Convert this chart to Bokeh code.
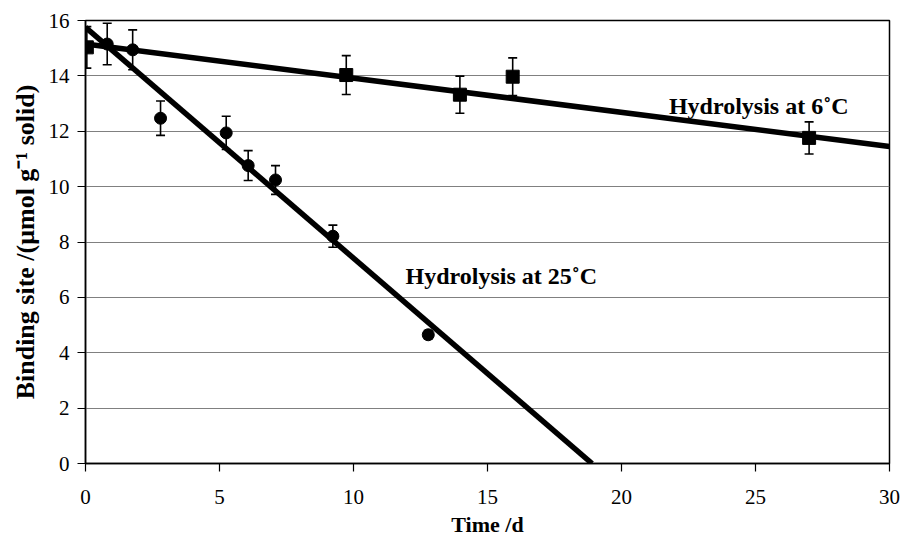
from bokeh.plotting import figure
from bokeh.models import Range1d, ColumnDataSource, Whisker, TeeHead, FixedTicker
from bokeh.core.properties import value
from bokeh.embed import file_html
from bokeh.resources import INLINE

# 25 °C hydrolysis (circles)
t25 = [0.81, 1.76, 2.80, 5.25, 6.07, 7.09, 9.23, 12.79]
b25 = [15.15, 14.94, 12.47, 11.94, 10.76, 10.24, 8.21, 4.65]
e25 = [0.75, 0.72, 0.62, 0.60, 0.54, 0.52, 0.40, 0.15]

# 6 °C hydrolysis (squares)
t6 = [0.05, 9.73, 13.97, 15.94, 27.0]
b6 = [15.03, 14.03, 13.32, 13.97, 11.76]
e6 = [0.75, 0.70, 0.67, 0.68, 0.58]

# fitted straight lines (end points)
fit25_x = [0.0, 18.9]
fit25_y = [15.75, 0.0]
fit6_x = [0.0, 30.0]
fit6_y = [15.15, 11.45]

x_ticks = [0, 5, 10, 15, 20, 25, 30]
y_ticks = [0, 2, 4, 6, 8, 10, 12, 14, 16]

x_title = "Time /d"
y_title = "Binding site /(μmol g⁻¹ solid)"
label6 = "Hydrolysis at 6˚C"
label25 = "Hydrolysis at 25˚C"
label6_pos = (21.77, 12.92)
label25_pos = (11.94, 6.79)

FONT = "Liberation Serif"

p = figure(width=901, height=539, output_backend="svg", toolbar_location=None,
           x_range=Range1d(0, 30), y_range=Range1d(0, 16),
           min_border_left=85, min_border_right=12, min_border_top=20, min_border_bottom=76)
p.background_fill_color = "white"
p.border_fill_color = "white"
p.outline_line_color = "black"
p.outline_line_width = 1.5

p.xgrid.visible = False
p.ygrid.ticker = FixedTicker(ticks=y_ticks)
p.ygrid.grid_line_color = "#808080"
p.ygrid.grid_line_width = 1.2

for ax, ticks in ((p.xaxis[0], x_ticks), (p.yaxis[0], y_ticks)):
    ax.ticker = FixedTicker(ticks=ticks)
    ax.axis_line_color = "black"
    ax.axis_line_width = 1.5
    ax.major_tick_line_color = "black"
    ax.major_tick_line_width = 1.2
    ax.major_tick_out = 8
    ax.major_tick_in = 0
    ax.minor_tick_line_color = None
    ax.major_label_text_font = FONT
    ax.major_label_text_font_size = "21px"
    ax.major_label_text_color = "black"
    ax.axis_label_text_font = FONT
    ax.axis_label_text_font_style = "bold"
    ax.axis_label_text_color = "black"

p.xaxis.axis_label = x_title
p.yaxis.axis_label = y_title
p.xaxis.axis_label_text_font_size = "22px"
p.yaxis.axis_label_text_font_size = "26px"
p.xaxis.major_label_text_line_height = 0.9
p.xaxis.axis_label_text_line_height = 0.9
p.xaxis.major_label_standoff = 18
p.yaxis.major_label_standoff = 8
p.xaxis.axis_label_standoff = 5
p.yaxis.axis_label_standoff = 6

# error bars
s25 = ColumnDataSource(dict(x=t25, y=b25,
                            lo=[v - e for v, e in zip(b25, e25)],
                            hi=[v + e for v, e in zip(b25, e25)]))
s6 = ColumnDataSource(dict(x=t6, y=b6,
                           lo=[v - e for v, e in zip(b6, e6)],
                           hi=[v + e for v, e in zip(b6, e6)]))
for src in (s25, s6):
    w = Whisker(source=src, base="x", lower="lo", upper="hi",
                line_color="black", line_width=1.6,
                upper_head=TeeHead(size=9, line_width=1.6, line_color="black"),
                lower_head=TeeHead(size=9, line_width=1.6, line_color="black"))
    p.add_layout(w)

# fit lines
p.line(fit25_x, fit25_y, line_color="black", line_width=5.5)
p.line(fit6_x, fit6_y, line_color="black", line_width=5.5)

# markers
p.scatter("x", "y", source=s25, marker="circle", size=12, fill_color="black", line_color="black")
p.scatter("x", "y", source=s6, marker="square", size=13, fill_color="black", line_color="black")

# annotations
for txt, pos in ((label6, label6_pos), (label25, label25_pos)):
    p.text(x=[pos[0]], y=[pos[1]], text=[txt], text_font=value(FONT),
           text_font_size="24px", text_font_style="bold", text_color="black",
           text_baseline="alphabetic", text_align="left")

open("out.html", "w").write(file_html(p, INLINE))
